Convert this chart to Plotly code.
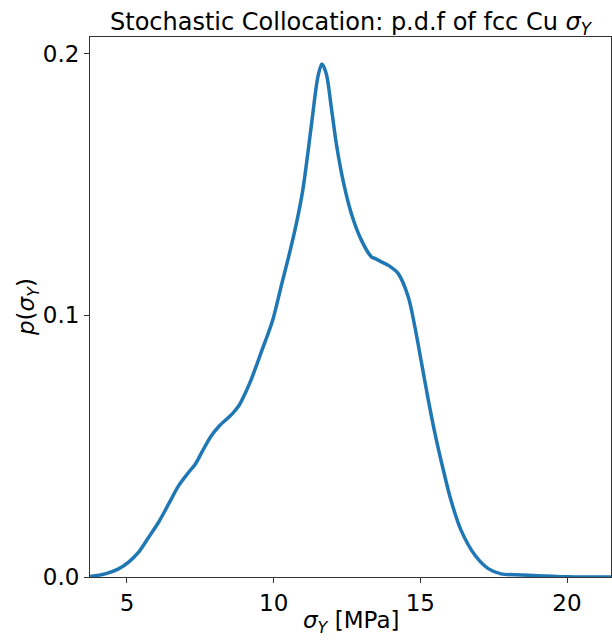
import plotly.graph_objects as go

sigma_y = [3.743, 4.257, 4.712, 5.055, 5.397, 5.740, 6.082, 6.425, 6.767, 7.110,
           7.339, 7.568, 7.853, 8.137, 8.596, 8.822, 9.051, 9.223, 9.565, 9.966,
           10.250, 10.592, 10.822, 10.993, 11.164, 11.336, 11.507, 11.644, 11.791, 11.962,
           12.134, 12.363, 12.647, 12.990, 13.332, 13.445, 13.675, 13.904, 14.247, 14.589,
           14.815, 15.045, 15.274, 15.500, 15.788, 16.045, 16.390, 16.870, 17.329, 17.750,
           18.445, 19.0, 19.5, 20.0, 20.5, 21.6]
pdf = [0.0002, 0.0012, 0.0031, 0.0057, 0.0095, 0.0152, 0.0210, 0.0280, 0.0350, 0.0401,
       0.0433, 0.0480, 0.0536, 0.0576, 0.0624, 0.0656, 0.0707, 0.0751, 0.0855, 0.0981,
       0.1108, 0.1261, 0.1376, 0.1478, 0.1618, 0.1771, 0.1911, 0.1960, 0.1924, 0.1797,
       0.1657, 0.1516, 0.1389, 0.1287, 0.1223, 0.1217, 0.1204, 0.1191, 0.1159, 0.1070,
       0.0955, 0.0815, 0.0675, 0.0548, 0.0407, 0.0293, 0.0178, 0.0082, 0.0031, 0.0012,
       0.0008, 0.0005, 0.0003, 0.0001, 0.00003, 0.0]

x_ticks = [5, 10, 15, 20]
y_ticks = [0.0, 0.1, 0.2]
y_tick_labels = ["0.0", "0.1", "0.2"]

FONT = "DejaVu Sans"
W, H = 612, 640
L, R, T, B = 90, 1, 37, 63

fig = go.Figure()
fig.add_trace(go.Scatter(x=sigma_y, y=pdf, mode="lines",
                         line=dict(color="#1f77b4", width=3.5, shape="spline", smoothing=0.9),
                         showlegend=False, hoverinfo="skip"))

axis_common = dict(showgrid=False, zeroline=False, showline=True, linecolor="#333333",
                   linewidth=1, mirror=True, ticks="outside", ticklen=5, tickwidth=1,
                   tickcolor="#333333", automargin=False,
                   tickfont=dict(family=FONT, size=23, color="black"))

fig.update_layout(
    width=W, height=H,
    margin=dict(l=L, r=R, t=T, b=B),
    paper_bgcolor="white", plot_bgcolor="white",
    font=dict(family=FONT, color="black"),
    title=dict(text="Stochastic Collocation: p.d.f of fcc Cu <i>σ</i><sub><i>Y</i></sub>",
               x=(L + W - R) / 2 / W, xanchor="center", y=1 - 22 / H, yanchor="middle",
               font=dict(family=FONT, size=24, color="black")),
    xaxis=dict(range=[3.739, 21.5], tickvals=x_ticks, **axis_common),
    yaxis=dict(range=[0, 0.2063], tickvals=y_ticks, ticktext=y_tick_labels, **axis_common),
)

plot_w = W - L - R
plot_h = H - T - B
fig.add_annotation(text="<i>σ</i><sub><i>Y</i></sub> [MPa]", xref="paper", yref="paper",
                   x=0.5, y=-45 / plot_h,
                   xanchor="center", yanchor="middle", showarrow=False,
                   font=dict(family=FONT, size=23, color="black"))
fig.add_annotation(text="<i>p</i>(<i>σ</i><sub><i>Y</i></sub>)", xref="paper", yref="paper",
                   x=-62 / plot_w, y=0.5, textangle=-90,
                   xanchor="center", yanchor="middle", showarrow=False,
                   font=dict(family=FONT, size=23, color="black"))

fig.write_html("out.html", config={"displayModeBar": False},
               post_script="document.body.style.margin='0';document.body.style.overflow='hidden';")
